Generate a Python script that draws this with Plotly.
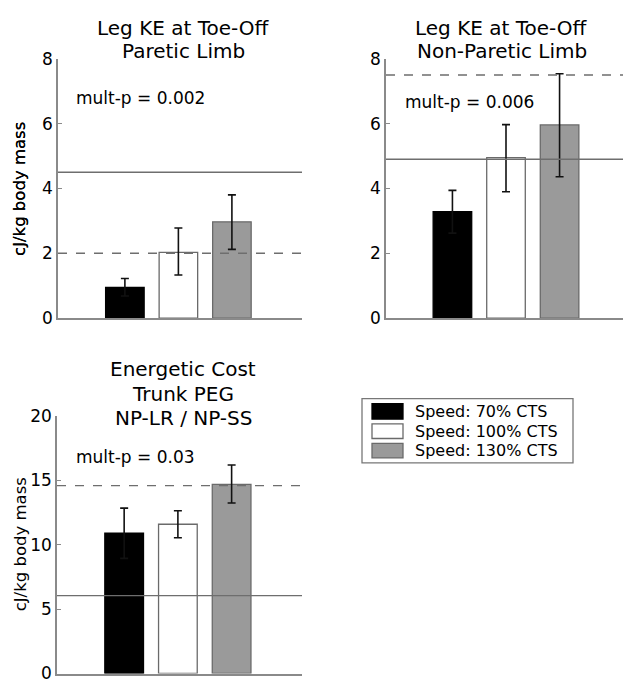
import plotly.graph_objects as go

# ---- data ----
speeds = ["Speed: 70% CTS", "Speed: 100% CTS", "Speed: 130% CTS"]
xpos = [1, 2, 3]

p1_means = [0.95, 2.03, 2.97]
p1_err_up = [0.27, 0.75, 0.83]
p1_err_dn = [0.27, 0.70, 0.85]
p1_solid = 4.5
p1_dashed = 2.0

p2_means = [3.28, 4.95, 5.96]
p2_err_up = [0.66, 1.02, 1.58]
p2_err_dn = [0.66, 1.05, 1.60]
p2_solid = 4.9
p2_dashed = 7.5

p3_means = [10.9, 11.6, 14.7]
p3_err_up = [1.95, 1.05, 1.5]
p3_err_dn = [1.95, 1.05, 1.45]
p3_solid = 6.05
p3_dashed = 14.6

titles = [["Leg KE at Toe-Off", "Paretic Limb"],
          ["Leg KE at Toe-Off", "Non-Paretic Limb"],
          ["Energetic Cost", "Trunk PEG", "NP-LR / NP-SS"]]
ptexts = ["mult-p = 0.002", "mult-p = 0.006", "mult-p = 0.03"]
ytitle = "cJ/kg body mass"

fills = ["#000000", "#ffffff", "#9a9a9a"]
lines_c = ["#000000", "#6a6a6a", "#6a6a6a"]

FONT = "DejaVu Sans"
TXT = "#000000"
W, H = 631, 693
OFF = 8  # page body margin


def px_x(x):
    return (x - OFF) / W


def px_y(y):
    return (H - (y - OFF)) / H


fig = go.Figure()

panels = [
    dict(means=p1_means, up=p1_err_up, dn=p1_err_dn, solid=p1_solid, dashed=p1_dashed,
         xd=[px_x(58), px_x(302)], yd=[px_y(317), px_y(50)], xr=[-0.25, 4.31], yr=[0, 8], dt=2),
    dict(means=p2_means, up=p2_err_up, dn=p2_err_dn, solid=p2_solid, dashed=p2_dashed,
         xd=[px_x(386), px_x(626)], yd=[px_y(317), px_y(50)], xr=[-0.24, 4.24], yr=[0, 8], dt=2),
    dict(means=p3_means, up=p3_err_up, dn=p3_err_dn, solid=p3_solid, dashed=p3_dashed,
         xd=[px_x(57), px_x(302)], yd=[px_y(683), px_y(418)], xr=[-0.25, 4.31], yr=[0, 20], dt=5),
]

ptext_pos = [(0.066, 6.8), (0.071, 6.68), (0.068, 16.8)]
title_centers = [(183, [18, 42]), (502, [18, 42]), (183, [369, 395, 420])]
ytitle_y = [184, 184, 550]

annotations = []
shapes = []
for i, p in enumerate(panels):
    n = "" if i == 0 else str(i + 1)
    xa, ya = "x" + n, "y" + n
    for j in range(3):
        fig.add_trace(go.Bar(
            x=[xpos[j]], y=[p["means"][j]], name=speeds[j], width=0.72,
            marker=dict(color=fills[j], line=dict(color=lines_c[j], width=1.3)),
            error_y=dict(type="data", symmetric=False, array=[p["up"][j]],
                         arrayminus=[p["dn"][j]], color="#111111", thickness=1.6, width=4),
            xaxis=xa, yaxis=ya, showlegend=False,
        ))
    fig.update_layout(**{
        ("xaxis" + n): dict(domain=p["xd"], range=p["xr"], showticklabels=False, ticks="",
                            showgrid=False, zeroline=False, showline=True,
                            linecolor="#8a8a8a", linewidth=1.5, anchor=ya),
        ("yaxis" + n): dict(domain=p["yd"], range=p["yr"], dtick=p["dt"], tick0=0,
                            showgrid=False, zeroline=False, showline=True,
                            linecolor="#8a8a8a", linewidth=1.5, ticks="inside", ticklen=4,
                            tickcolor="#8a8a8a", tickfont=dict(family=FONT, size=17, color=TXT),
                            anchor=xa),
    })
    shapes.append(dict(type="line", xref=xa + " domain", yref=ya, x0=0, x1=1,
                       y0=p["solid"], y1=p["solid"], line=dict(color="#6e6e6e", width=1.3),
                       layer="above"))
    shapes.append(dict(type="line", xref=xa + " domain", yref=ya, x0=0, x1=1,
                       y0=p["dashed"], y1=p["dashed"],
                       line=dict(color="#6e6e6e", width=1.3, dash="dash"), layer="above"))
    annotations.append(dict(text=ptexts[i], xref=xa + " domain", yref=ya,
                            x=ptext_pos[i][0], y=ptext_pos[i][1], xanchor="left",
                            yanchor="middle", showarrow=False,
                            font=dict(family=FONT, size=17, color=TXT)))
    cx, ys = title_centers[i]
    for line, yy in zip(titles[i], ys):
        annotations.append(dict(text=line, xref="paper", yref="paper", x=px_x(cx),
                                y=px_y(yy), xanchor="center", yanchor="middle",
                                showarrow=False, font=dict(family=FONT, size=20, color=TXT)))
    annotations.append(dict(text=ytitle, xref="paper", yref="paper", x=px_x(20),
                            y=px_y(ytitle_y[i]), xanchor="center", yanchor="middle",
                            textangle=-90, showarrow=False,
                            font=dict(family=FONT, size=16.5, color=TXT)))

# ---- legend box (MATLAB-style: wide patches) ----
shapes.append(dict(type="rect", xref="paper", yref="paper",
                   x0=px_x(362), x1=px_x(573), y0=px_y(466), y1=px_y(400),
                   line=dict(color="#777777", width=1.3), fillcolor="white", layer="above"))
leg_rows = [(405, 421), (426, 441), (446, 461)]
for j, (t, b) in enumerate(leg_rows):
    shapes.append(dict(type="rect", xref="paper", yref="paper",
                       x0=px_x(372), x1=px_x(403), y0=px_y(b), y1=px_y(t),
                       line=dict(color=lines_c[j], width=1.3), fillcolor=fills[j], layer="above"))
    annotations.append(dict(text=speeds[j], xref="paper", yref="paper", x=px_x(413),
                            y=px_y((t + b) / 2), xanchor="left", yanchor="middle",
                            showarrow=False, font=dict(family=FONT, size=16, color=TXT)))

fig.update_layout(
    width=W, height=H, margin=dict(l=0, r=0, t=0, b=0),
    paper_bgcolor="white", plot_bgcolor="white",
    shapes=shapes, annotations=annotations, barmode="overlay", showlegend=False,
)

fig.write_html("out.html")
